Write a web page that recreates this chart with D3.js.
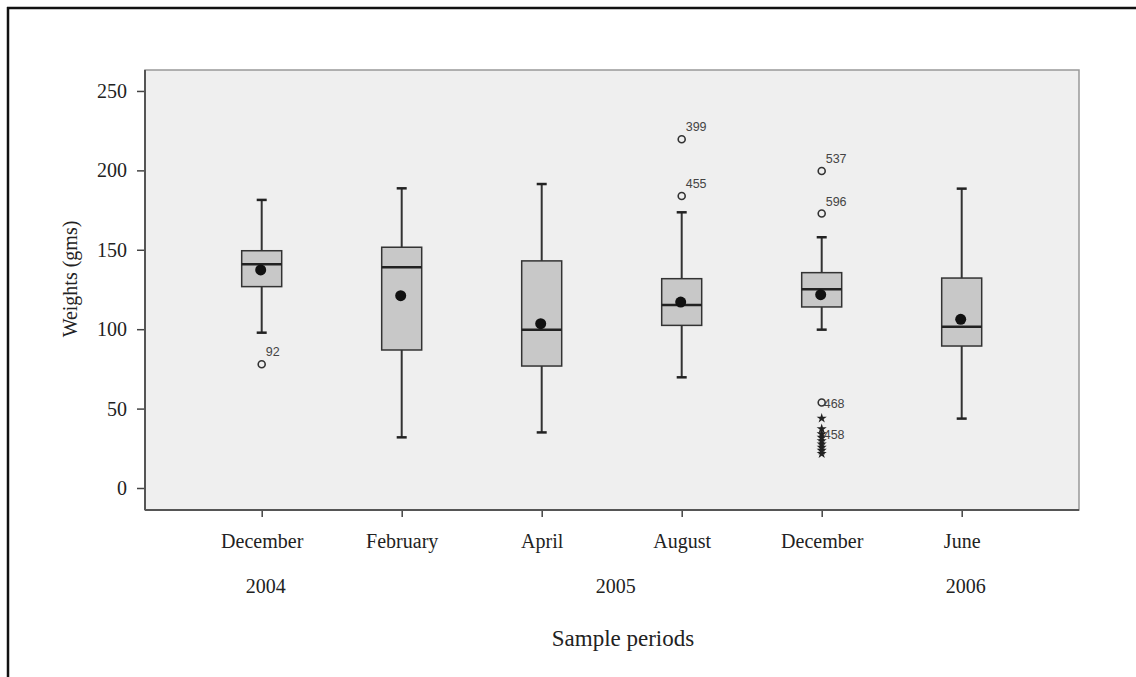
<!DOCTYPE html>
<html>
<head>
<meta charset="utf-8">
<script src="https://cdn.jsdelivr.net/npm/d3@7"></script>
<style>
  body { margin: 0; background: #fff; }
  svg { display: block; }
  .serif { font-family: "Liberation Serif", "Times New Roman", serif; fill: #222; }
  .olab { font-family: "Liberation Sans", Arial, sans-serif; font-size: 12.5px; fill: #444; }
</style>
</head>
<body>
<svg width="1136" height="677"></svg>
<script>
// sample periods and their years
var months = ["December", "February", "April", "August", "December", "June"];
var years  = ["2004", "2005", "2005", "2005", "2005", "2006"];

// box plot statistics (gms)
var whiskerLow  = [97.8, 31.9, 35.0, 69.7, 99.7, 43.7];
var q1          = [126.8, 86.9, 76.8, 102.4, 114.0, 89.4];
var median      = [140.9, 139.0, 99.7, 115.2, 125.1, 101.6];
var q3          = [149.4, 151.6, 143.0, 131.8, 135.6, 132.2];
var whiskerHigh = [181.4, 188.7, 191.4, 173.6, 157.9, 188.5];
var means       = [137.3, 121.1, 103.5, 117.1, 121.7, 106.2];

// outliers (o) and extremes (*) per period, with case labels
var outliers = [
  [{v: 77.9, kind: "o", label: "92"}],
  [],
  [],
  [{v: 219.6, kind: "o", label: "399"}, {v: 183.9, kind: "o", label: "455"}],
  [{v: 199.6, kind: "o", label: "537"}, {v: 172.8, kind: "o", label: "596"},
   {v: 53.8, kind: "o", label: "468"}, {v: 43.9, kind: "*", label: ""},
   {v: 37.2, kind: "*", label: ""}, {v: 34.0, kind: "*", label: "458"},
   {v: 31.8, kind: "*", label: ""}, {v: 29.6, kind: "*", label: ""},
   {v: 27.6, kind: "*", label: ""}, {v: 25.6, kind: "*", label: ""},
   {v: 23.6, kind: "*", label: ""}, {v: 21.6, kind: "*", label: ""}],
  []
];

var yTicks = [0, 50, 100, 150, 200, 250];

var svg = d3.select("svg"),
    plotL = 145, plotR = 1079, plotT = 70, plotB = 510;

var ids = d3.range(months.length);

var x = d3.scalePoint()
    .domain(ids)
    .range([261.7, 961.7]);

var y = d3.scaleLinear()
    .domain([-13.85, 263.2])
    .range([plotB, plotT]);

// outer frame (top + left only)
svg.append("line").attr("x1", 7).attr("x2", 1136).attr("y1", 8).attr("y2", 8)
   .style("stroke", "#111").style("stroke-width", 2.5);
svg.append("line").attr("x1", 8).attr("x2", 8).attr("y1", 7).attr("y2", 677)
   .style("stroke", "#111").style("stroke-width", 2.5);

// plot background
svg.append("rect")
   .attr("x", plotL).attr("y", plotT)
   .attr("width", plotR - plotL).attr("height", plotB - plotT)
   .style("fill", "#efefef")
   .style("stroke", "#999")
   .style("stroke-width", 1.5);

// axes
var yAxis = svg.append("g")
   .attr("transform", "translate(" + plotL + ",0)")
   .call(d3.axisLeft(y).tickValues(yTicks).tickSize(8).tickPadding(10));
yAxis.select(".domain").remove();
yAxis.selectAll("line").style("stroke", "#444").style("stroke-width", 1.5);
yAxis.selectAll("text").attr("class", "serif").style("font-size", "20px");

var xAxis = svg.append("g")
   .attr("transform", "translate(0," + plotB + ")")
   .call(d3.axisBottom(x).tickSize(7).tickPadding(17).tickFormat(function(i) { return months[i]; }));
xAxis.select(".domain").remove();
xAxis.selectAll("line").style("stroke", "#444").style("stroke-width", 1.5);
xAxis.selectAll("text").attr("class", "serif").style("font-size", "20px");

// darker left and bottom axis lines
svg.append("line").attr("x1", plotL).attr("x2", plotL).attr("y1", plotT).attr("y2", plotB)
   .style("stroke", "#555").style("stroke-width", 2);
svg.append("line").attr("x1", plotL).attr("x2", plotR).attr("y1", plotB).attr("y2", plotB)
   .style("stroke", "#555").style("stroke-width", 2);

// year labels, centred under their months
var yearGroups = d3.groups(ids, function(i) { return years[i]; });
svg.append("g").selectAll("text")
   .data(yearGroups)
   .enter().append("text")
   .attr("class", "serif")
   .style("font-size", "20px")
   .attr("text-anchor", "middle")
   .attr("x", function(d) { return d3.mean(d[1], function(i) { return x(i); }) + 4; })
   .attr("y", 593)
   .text(function(d) { return d[0]; });

// axis titles
svg.append("text").attr("class", "serif")
   .style("font-size", "23px")
   .attr("text-anchor", "middle")
   .attr("x", 623).attr("y", 646)
   .text("Sample periods");

svg.append("text").attr("class", "serif")
   .style("font-size", "20px")
   .attr("text-anchor", "middle")
   .attr("transform", "translate(77,279) rotate(-90)")
   .text("Weights (gms)");

// boxes
var boxW = 40, capW = 10;
var box = svg.append("g").selectAll("g")
   .data(ids)
   .enter().append("g");

box.append("line")
   .attr("x1", function(i) { return x(i); }).attr("x2", function(i) { return x(i); })
   .attr("y1", function(i) { return y(whiskerHigh[i]); })
   .attr("y2", function(i) { return y(whiskerLow[i]); })
   .style("stroke", "#333").style("stroke-width", 2);

box.selectAll(".cap")
   .data(function(i) { return [[i, whiskerHigh[i]], [i, whiskerLow[i]]]; })
   .enter().append("line")
   .attr("x1", function(d) { return x(d[0]) - capW / 2; })
   .attr("x2", function(d) { return x(d[0]) + capW / 2; })
   .attr("y1", function(d) { return y(d[1]); })
   .attr("y2", function(d) { return y(d[1]); })
   .style("stroke", "#222").style("stroke-width", 2.5);

box.append("rect")
   .attr("x", function(i) { return x(i) - boxW / 2; })
   .attr("width", boxW)
   .attr("y", function(i) { return y(q3[i]); })
   .attr("height", function(i) { return y(q1[i]) - y(q3[i]); })
   .style("fill", "#c8c8c8")
   .style("stroke", "#333")
   .style("stroke-width", 1.5);

box.append("line")
   .attr("x1", function(i) { return x(i) - boxW / 2; })
   .attr("x2", function(i) { return x(i) + boxW / 2; })
   .attr("y1", function(i) { return y(median[i]); })
   .attr("y2", function(i) { return y(median[i]); })
   .style("stroke", "#222").style("stroke-width", 2.5);

box.append("circle")
   .attr("cx", function(i) { return x(i) - 1; })
   .attr("cy", function(i) { return y(means[i]); })
   .attr("r", 5.5)
   .style("fill", "#111");

// outliers and extremes
var pts = [];
outliers.forEach(function(list, i) {
  list.forEach(function(o) { pts.push({i: i, v: o.v, kind: o.kind, label: o.label, list: list}); });
});

// crowded points get their label to the right, others above-right
pts.forEach(function(p) {
  p.crowded = p.list.some(function(q) {
    return q.v !== p.v && Math.abs(y(q.v) - y(p.v)) < 20;
  });
});

var op = svg.append("g");
op.selectAll("circle")
   .data(pts.filter(function(p) { return p.kind === "o"; }))
   .enter().append("circle")
   .attr("cx", function(p) { return x(p.i); })
   .attr("cy", function(p) { return y(p.v); })
   .attr("r", 3.5)
   .style("fill", "none")
   .style("stroke", "#333")
   .style("stroke-width", 1.6);

op.selectAll("path")
   .data(pts.filter(function(p) { return p.kind === "*"; }))
   .enter().append("path")
   .attr("d", d3.symbol().type(d3.symbolStar).size(32))
   .attr("transform", function(p) { return "translate(" + x(p.i) + "," + y(p.v) + ")"; })
   .style("fill", "#222");

op.selectAll("text")
   .data(pts.filter(function(p) { return p.label; }))
   .enter().append("text")
   .attr("class", "olab")
   .attr("x", function(p) { return x(p.i) + (p.crowded ? 2 : 4); })
   .attr("y", function(p) { return y(p.v) + (p.crowded ? 5 : -8); })
   .text(function(p) { return p.label; });
</script>
</body>
</html>
